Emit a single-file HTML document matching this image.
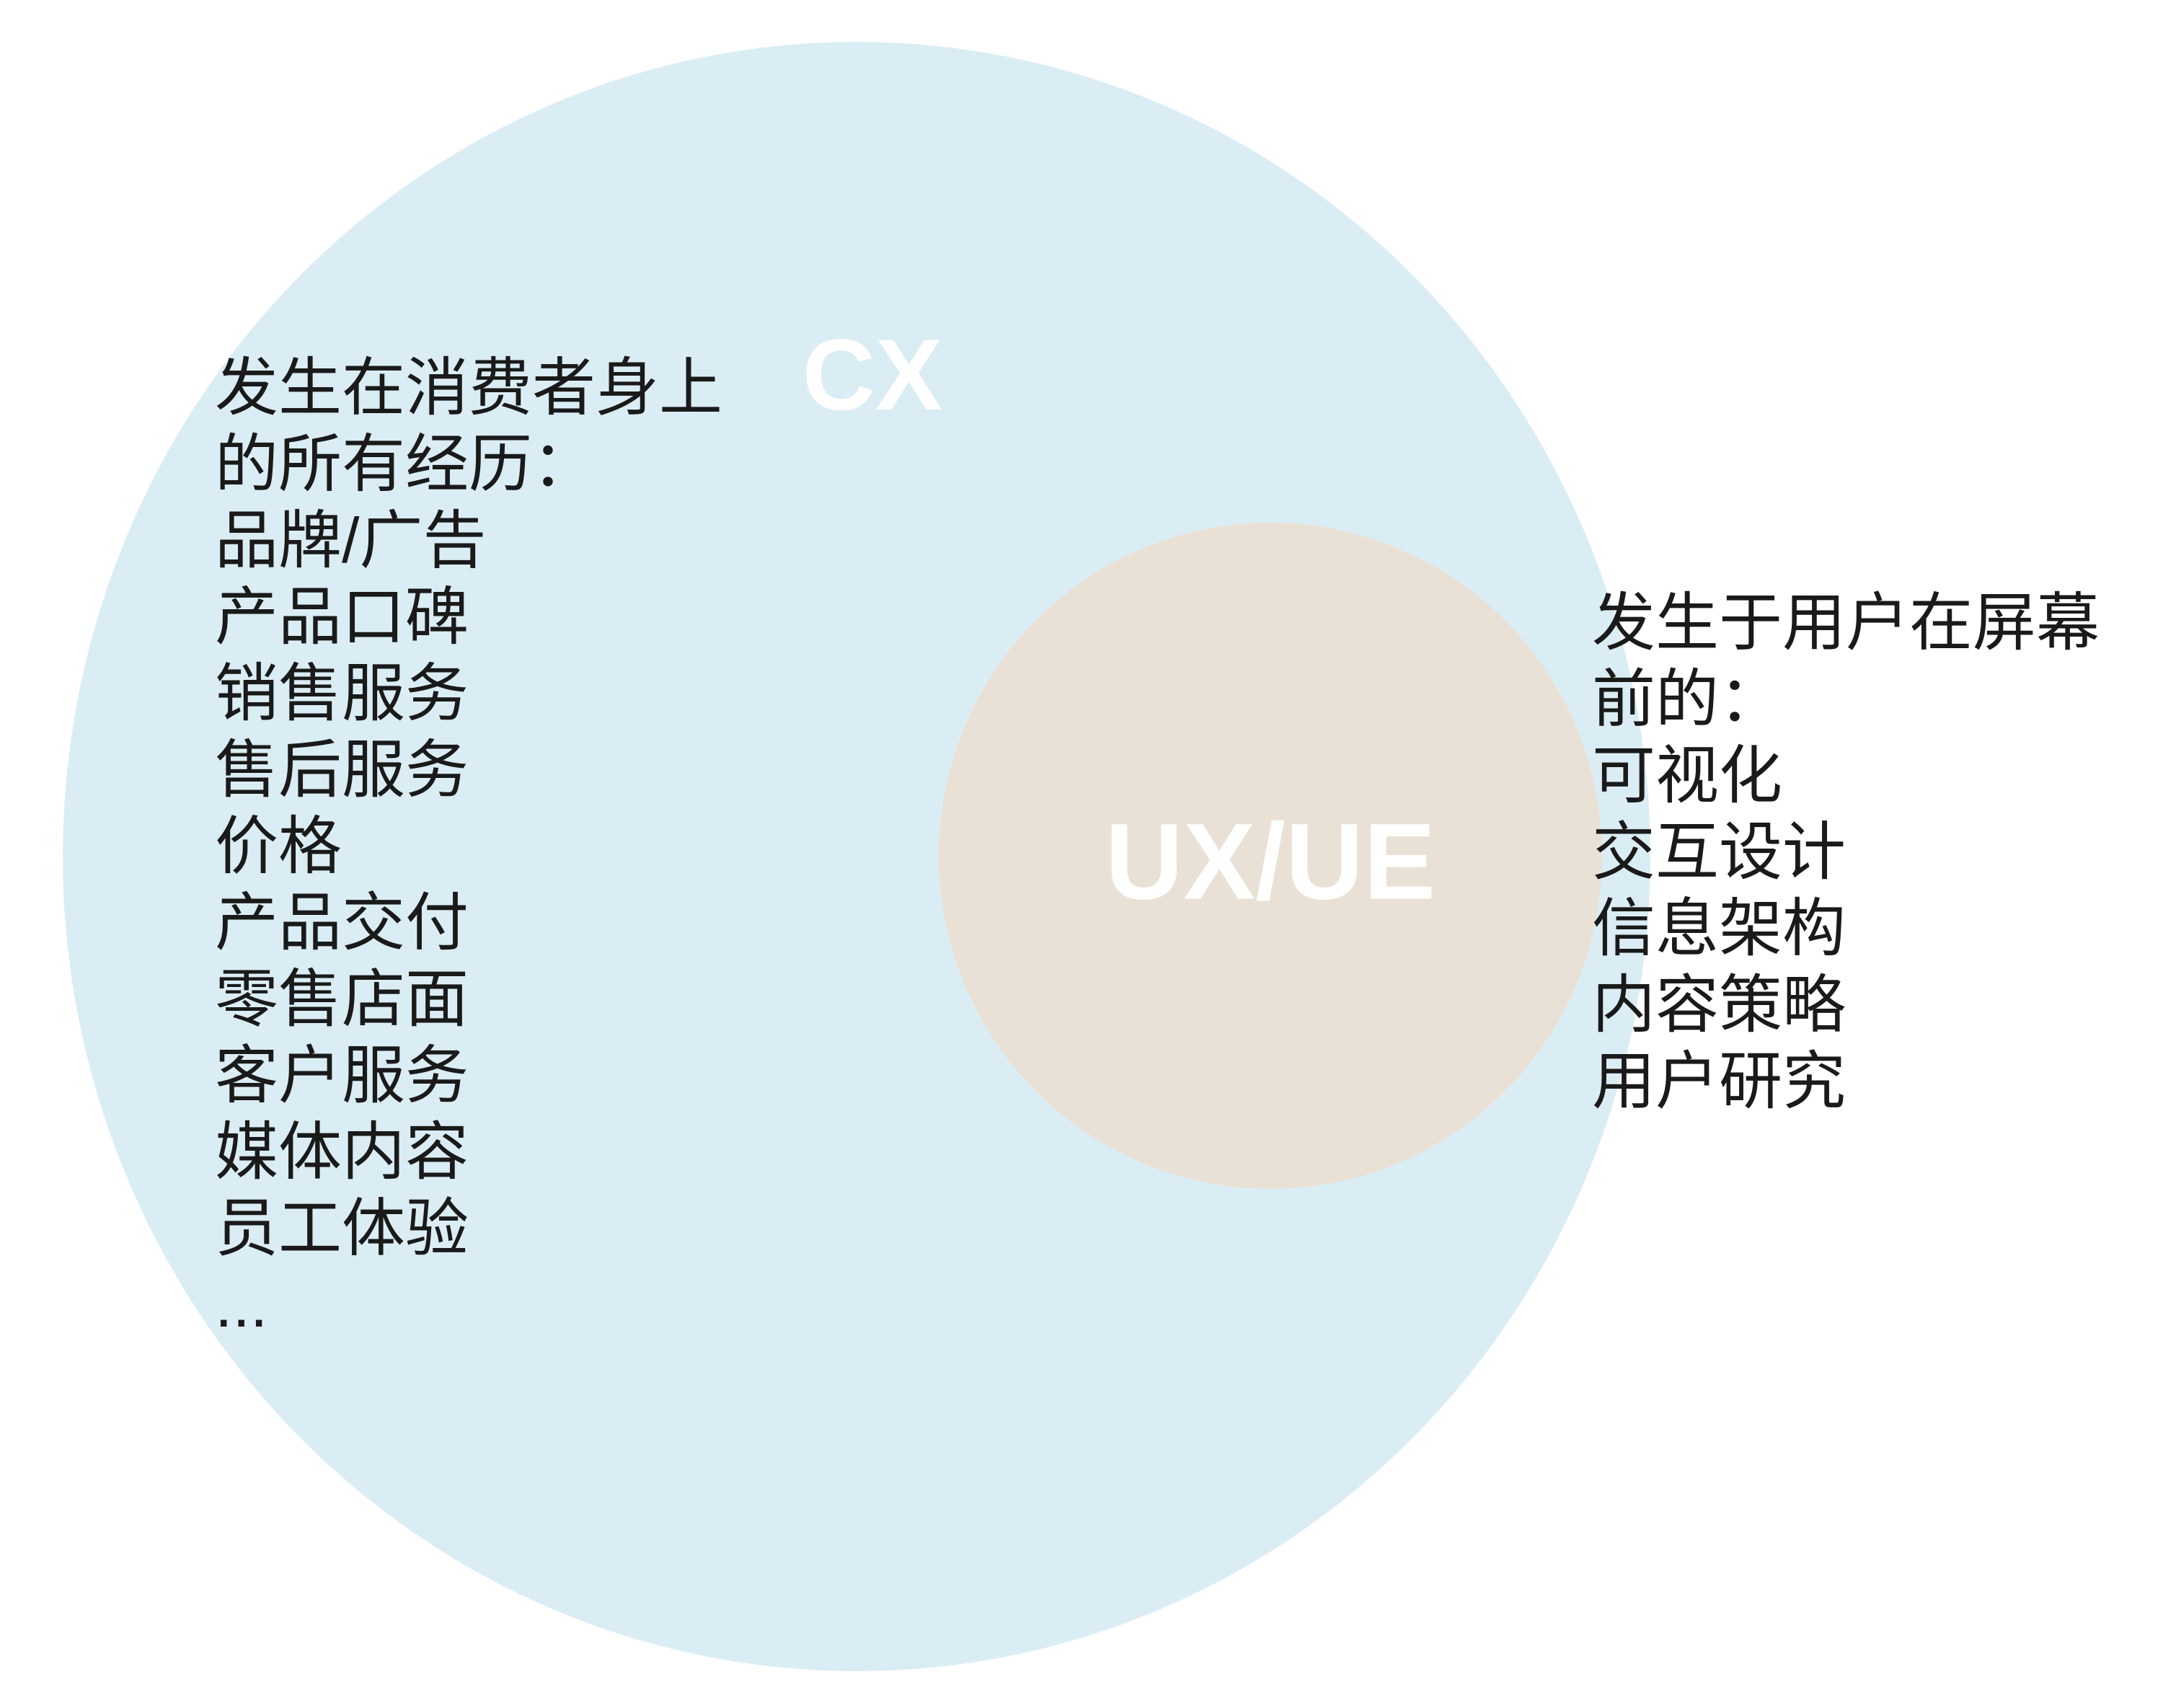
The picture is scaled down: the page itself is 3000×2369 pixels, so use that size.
<!DOCTYPE html>
<html><head><meta charset="utf-8"><style>
html,body{margin:0;padding:0;background:#fff;}
#c{position:relative;width:3000px;height:2369px;overflow:hidden;background:#fff;}
.circ{position:absolute;border-radius:50%;}
.t{position:absolute;font-family:"Liberation Sans","Noto Sans CJK SC",sans-serif;font-size:88px;line-height:106px;color:#1a1a1a;white-space:nowrap;}
.lab{position:absolute;font-family:"Liberation Sans",sans-serif;font-weight:bold;color:#fff;white-space:nowrap;transform:translate(-50%,-50%);}
</style></head><body><div id="c">
<div class="circ" style="left:87px;top:58px;width:2202px;height:2260px;background:#dbedf4;"></div>
<div class="circ" style="left:1302px;top:725px;width:920px;height:924px;background:#eae1d6;"></div>
<div class="lab" style="left:1210px;top:520px;font-size:140px;">CX</div>
<div class="lab" style="left:1762px;top:1195px;font-size:150px;">UX/UE</div>
<div class="t" style="left:298px;top:485px;">发生在消费者身上<br>的所有经历：<br>品牌/广告<br>产品口碑<br>销售服务<br>售后服务<br>价格<br>产品交付<br>零售店面<br>客户服务<br>媒体内容<br>员工体验<br>...</div>
<div class="t" style="left:2208px;top:811px;">发生于用户在屏幕<br>前的：<br>可视化<br>交互设计<br>信息架构<br>内容策略<br>用户研究</div>
</div></body></html>
